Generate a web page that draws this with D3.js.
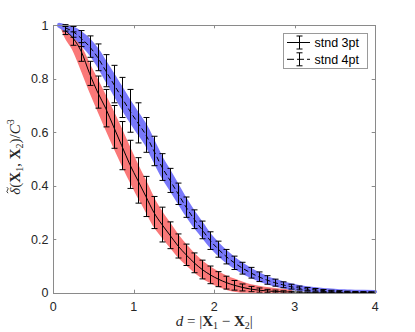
<!DOCTYPE html>
<html><head><meta charset="utf-8">
<script src="https://cdn.jsdelivr.net/npm/d3@7/dist/d3.min.js"></script>
<style>body{margin:0;background:#fff}svg{display:block}</style>
</head><body>
<svg id="c" width="415" height="332"></svg>
<script>
// ---- data ----
const dGrid = [0.15,0.25,0.35,0.45,0.55,0.65,0.75,0.85,0.95,1.05,1.15,1.25,1.35,1.45,1.55,1.65,1.75,1.85,1.95,2.05,2.15,2.25,2.35,2.45,2.55,2.65,2.75,2.85,2.95,3.05,3.15,3.25,3.35,3.45,3.55,3.65,3.75,3.85,3.95];
const stnd3ptMean = [0.98,0.95,0.90,0.82,0.75,0.69,0.62,0.55,0.48,0.42,0.36,0.30,0.255,0.215,0.175,0.142,0.112,0.087,0.067,0.051,0.038,0.028,0.020,0.014,0.010,0.007,0.005,0.0035,0.0025,0.0018,0.0012,0.0008,0.0005,0.0003,0.0002,0.0001,0.0001,0,0];
const stnd3ptErr = [0.015,0.025,0.035,0.045,0.06,0.07,0.08,0.09,0.09,0.085,0.075,0.06,0.065,0.05,0.045,0.04,0.037,0.035,0.033,0.028,0.024,0.018,0.013,0.01,0.008,0.006,0.005,0.004,0.003,0.002,0.002,0.001,0.001,0.001,0.001,0.0005,0.0005,0.0005,0.0005];
const stnd4ptMean = [0.99,0.975,0.95,0.92,0.88,0.83,0.78,0.73,0.68,0.635,0.59,0.53,0.47,0.42,0.37,0.32,0.275,0.235,0.195,0.163,0.135,0.112,0.092,0.075,0.060,0.048,0.038,0.030,0.023,0.018,0.014,0.011,0.0085,0.0065,0.005,0.004,0.003,0.0025,0.002];
const stnd4ptErr = [0.012,0.02,0.03,0.04,0.05,0.06,0.07,0.075,0.08,0.075,0.065,0.055,0.05,0.045,0.04,0.038,0.035,0.033,0.033,0.03,0.027,0.025,0.022,0.02,0.018,0.016,0.013,0.011,0.009,0.007,0.006,0.005,0.004,0.003,0.003,0.002,0.002,0.002,0.002];
// scatter clouds (sample spread around each curve)
const redCloudD = [0.12,0.15,0.25,0.35,0.45,0.55,0.65,0.75,0.85,0.95,1.05,1.15,1.25,1.35,1.45,1.55,1.65,1.75,1.85,1.95,2.05,2.15,2.25,2.35,2.45,2.55,2.65,2.75,2.85,2.95];
const redCloudMid = [0.99,0.972,0.935,0.875,0.805,0.74,0.675,0.61,0.545,0.48,0.418,0.36,0.30,0.255,0.215,0.175,0.142,0.112,0.087,0.067,0.051,0.038,0.028,0.020,0.014,0.010,0.007,0.005,0.0035,0.0025];
const redCloudSpread = [0.005,0.01,0.022,0.033,0.04,0.047,0.052,0.055,0.055,0.053,0.05,0.047,0.044,0.04,0.037,0.034,0.031,0.028,0.026,0.024,0.022,0.02,0.018,0.015,0.012,0.01,0.008,0.006,0.005,0.003];
const blueCloudD = [0.07,0.15,0.25,0.35,0.45,0.55,0.65,0.75,0.85,0.95,1.05,1.15,1.25,1.35,1.45,1.55,1.65,1.75,1.85,1.95,2.05,2.15,2.25,2.35,2.45,2.55,2.65,2.75,2.85,2.95,3.05,3.15,3.25,3.35,3.45,3.55,3.65,3.75,3.85,4.0];
const blueCloudMid = [1.0,0.99,0.975,0.95,0.92,0.88,0.83,0.78,0.73,0.68,0.635,0.59,0.53,0.47,0.42,0.37,0.32,0.275,0.235,0.195,0.163,0.135,0.112,0.092,0.075,0.060,0.048,0.038,0.030,0.023,0.018,0.014,0.011,0.0085,0.0065,0.005,0.004,0.003,0.0025,0.0015];
const blueCloudSpread = [0.003,0.007,0.013,0.019,0.023,0.026,0.029,0.031,0.033,0.033,0.033,0.032,0.031,0.03,0.029,0.027,0.025,0.023,0.021,0.019,0.018,0.017,0.015,0.014,0.012,0.011,0.009,0.008,0.007,0.006,0.005,0.004,0.004,0.003,0.003,0.002,0.002,0.002,0.002,0.002];
const xTicks = [0,1,2,3,4];
const yTicks = [0,0.2,0.4,0.6,0.8,1];
const legendLabels = ["stnd 3pt","stnd 4pt"];

// ---- layout ----
const svg = d3.select("#c");
const L = 53.3, R = 375.3, T = 25.2, B = 292.8;
const x = d3.scaleLinear().domain([0,4]).range([L,R]);
const y = d3.scaleLinear().domain([0,1]).range([B,T]);
const axisCol = "#8a8a8a", textCol = "#262626";

svg.append("defs").append("clipPath").attr("id","pc")
  .append("rect").attr("x",L).attr("y",T-3).attr("width",R-L+3).attr("height",B-T+3);

const plot = svg.append("g").attr("clip-path","url(#pc)");

function cloud(dArr, mid, spr, col){
  const pts = dArr.map((d,i)=>({d, lo:Math.max(0,mid[i]-spr[i]), hi:Math.min(1.005,mid[i]+spr[i])}));
  plot.append("path").datum(pts)
    .attr("d", d3.area().x(p=>x(p.d)).y0(p=>y(p.lo)).y1(p=>y(p.hi)).curve(d3.curveMonotoneX))
    .attr("fill",col).attr("stroke",col).attr("stroke-width",3.5).attr("stroke-linejoin","round");
}
cloud(redCloudD, redCloudMid, redCloudSpread, "rgb(250,120,120)");
cloud(blueCloudD, blueCloudMid, blueCloudSpread, "rgb(120,120,250)");

function series(mean, err, dash){
  const pts = dGrid.map((d,i)=>({d, m:mean[i], e:err[i]}));
  plot.append("path").datum(pts)
    .attr("d", d3.line().x(p=>x(p.d)).y(p=>y(p.m)).curve(d3.curveMonotoneX))
    .attr("fill","none").attr("stroke","#000").attr("stroke-width",1)
    .attr("stroke-dasharray", dash ? "5,3" : null);
  const g = plot.append("g").attr("stroke","#000").attr("stroke-width",1);
  const cw = 3;
  pts.forEach(p=>{
    const xx = Math.round(x(p.d))+0.5;
    const y1 = y(p.m+p.e), y2 = y(Math.max(p.m-p.e,-0.01));
    g.append("line").attr("x1",xx).attr("x2",xx).attr("y1",y1).attr("y2",y2);
    g.append("line").attr("x1",xx-cw).attr("x2",xx+cw).attr("y1",y1).attr("y2",y1);
    g.append("line").attr("x1",xx-cw).attr("x2",xx+cw).attr("y1",y2).attr("y2",y2);
  });
}
series(stnd3ptMean, stnd3ptErr, false);
series(stnd4ptMean, stnd4ptErr, true);

// ---- axes box & ticks ----
const ax = svg.append("g").attr("stroke",axisCol).attr("stroke-width",1).attr("fill","none");
ax.append("rect").attr("x",Math.round(L)+0.5).attr("y",Math.round(T)+0.5)
  .attr("width",Math.round(R)-Math.round(L)).attr("height",Math.round(B)-Math.round(T));
const tl = 3.3;
xTicks.forEach(t=>{
  const xx = Math.round(x(t))+0.5;
  ax.append("line").attr("x1",xx).attr("x2",xx).attr("y1",Math.round(B)).attr("y2",Math.round(B)-tl);
  ax.append("line").attr("x1",xx).attr("x2",xx).attr("y1",Math.round(T)).attr("y2",Math.round(T)+tl);
});
yTicks.forEach(t=>{
  const yy = Math.round(y(t))+0.5;
  ax.append("line").attr("x1",Math.round(L)).attr("x2",Math.round(L)+tl).attr("y1",yy).attr("y2",yy);
  ax.append("line").attr("x1",Math.round(R)).attr("x2",Math.round(R)-tl).attr("y1",yy).attr("y2",yy);
});
const fmt = d3.format("~g");
const tf = "'Liberation Sans', Arial, sans-serif";
svg.append("g").selectAll("text").data(xTicks).join("text")
  .attr("x",d=>x(d)).attr("y",311).attr("text-anchor","middle")
  .attr("font-family",tf).attr("font-size",12.5).attr("fill",textCol).text(d=>fmt(d));
svg.append("g").selectAll("text").data(yTicks).join("text")
  .attr("x",48.5).attr("y",d=>y(d)+4.5).attr("text-anchor","end")
  .attr("font-family",tf).attr("font-size",12.5).attr("fill",textCol).text(d=>fmt(d));

// ---- axis labels (math) ----
const sf = "'Liberation Serif','Times New Roman',serif";
const xl = svg.append("text").attr("x",x(2)).attr("y",326).attr("text-anchor","middle")
  .attr("font-family",sf).attr("font-size",15).attr("fill",textCol);
xl.append("tspan").attr("font-style","italic").text("d");
xl.append("tspan").text(" = |");
xl.append("tspan").attr("font-weight","bold").text("X");
xl.append("tspan").attr("font-size",10).attr("dy",3).text("1");
xl.append("tspan").attr("dy",-3).text(" \u2212 ");
xl.append("tspan").attr("font-weight","bold").text("X");
xl.append("tspan").attr("font-size",10).attr("dy",3).text("2");
xl.append("tspan").attr("dy",-3).text("|");

const ylg = svg.append("g").attr("transform",`translate(20,${(T+B)/2 - 2}) rotate(-90)`);
const yl = ylg.append("text").attr("text-anchor","middle").attr("font-family",sf)
  .attr("font-size",15).attr("fill",textCol);
yl.append("tspan").attr("font-style","italic").text("\u03B4");
yl.append("tspan").text("(");
yl.append("tspan").attr("font-weight","bold").text("X");
yl.append("tspan").attr("font-size",10).attr("dy",3).text("1");
yl.append("tspan").attr("dy",-3).text(", ");
yl.append("tspan").attr("font-weight","bold").text("X");
yl.append("tspan").attr("font-size",10).attr("dy",3).text("2");
yl.append("tspan").attr("dy",-3).text(")/");
yl.append("tspan").attr("font-style","italic").text("C");
yl.append("tspan").attr("font-size",10).attr("dy",-6).text("3");
// tilde accent over the delta
const ext = yl.node().getExtentOfChar(0);
const tcx = ext.x + ext.width/2 + 1, tcy = -12.5;
ylg.append("path")
  .attr("d",`M${tcx-3},${tcy+0.6} Q${tcx-1.5},${tcy-1.6} ${tcx},${tcy} T${tcx+3},${tcy-0.6}`)
  .attr("fill","none").attr("stroke",textCol).attr("stroke-width",0.9);

// ---- legend ----
const lg = svg.append("g");
lg.append("rect").attr("x",283.5).attr("y",33.5).attr("width",84).attr("height",35)
  .attr("fill","#fff").attr("stroke","#9a9a9a").attr("stroke-width",1);
legendLabels.forEach((lab,i)=>{
  const cy = 42.5 + i*16.8;
  const g = lg.append("g").attr("stroke","#000").attr("stroke-width",1);
  g.append("line").attr("x1",287).attr("x2",310).attr("y1",cy).attr("y2",cy)
    .attr("stroke-dasharray", i===1 ? "7,3" : null);
  g.append("line").attr("x1",299.5).attr("x2",299.5).attr("y1",cy-6.5).attr("y2",cy+6.5);
  g.append("line").attr("x1",296.5).attr("x2",302.5).attr("y1",cy-6.5).attr("y2",cy-6.5);
  g.append("line").attr("x1",296.5).attr("x2",302.5).attr("y1",cy+6.5).attr("y2",cy+6.5);
  lg.append("text").attr("x",314.5).attr("y",cy+4.5).attr("font-family",tf).attr("font-size",12.5)
    .attr("fill","#000").text(lab);
});
</script>
</body></html>
